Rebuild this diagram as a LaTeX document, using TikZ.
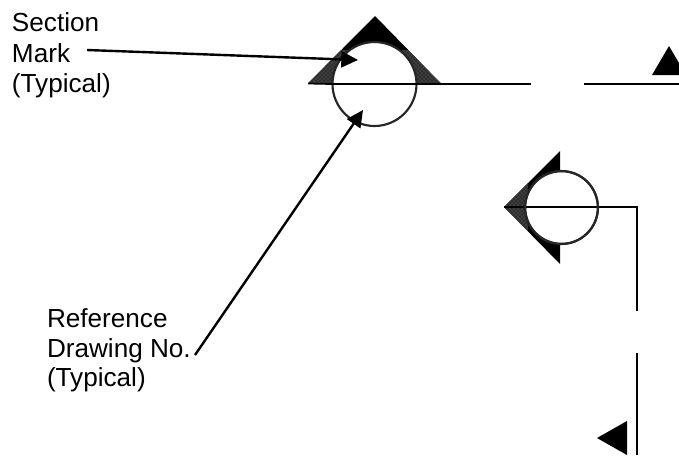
\documentclass[tikz,border=0pt]{standalone}
\usepackage{fontspec}
\setmainfont{Liberation Sans}
\usetikzlibrary{arrows.meta,patterns}
\tikzset{
  lbl/.style={anchor=base west,inner sep=0pt,outer sep=0pt,font=\fontsize{19.6pt}{22pt}\selectfont,text=black},
  thickline/.style={draw=black,line width=2pt},
  thinline/.style={draw=black,line width=1.3pt},
  ring/.style={draw=black!85,line width=1.6pt},
  leader/.style={draw=black,line width=1.8pt,-{Triangle[length=12.5pt,width=12pt]}},
  solidtip/.style={fill=black},
  speckle/.style={fill=black!82},
  dotted fill/.style={pattern=crosshatch dots,pattern color=black!55}
}
\begin{document}
\begin{tikzpicture}[x=0.75pt,y=-0.75pt]
\useasboundingbox (0,0) rectangle (679,455);
% top section mark
\fill[solidtip] (308,83.5) -- (375,16) -- (441,83.5) -- cycle;
\fill[speckle] (308,83.5) -- (341,50) -- (408,50) -- (441,83.5) -- cycle;
\fill[dotted fill] (308,83.5) -- (341,50) -- (408,50) -- (441,83.5) -- cycle;
\node[circle,minimum size=63pt,inner sep=0pt,fill=white,ring] (c1) at (374.5,84) {};
\coordinate (h1) at (308,83.5);
\coordinate (e1) at (441,84);
\coordinate (f1) at (531,84);
\draw[thinline] (c1.west) -- (c1.east);
\draw[thinline] (h1) -- (c1.west);
\draw[thinline] (c1.east) -- (e1);
\draw[thickline] (e1) -- (f1);
% top right
\coordinate (g1) at (584,84);
\coordinate (g2) at (679,84);
\draw[thickline] (g1) -- (g2);
\fill[solidtip] (652,75) -- (669,46) -- (686,75) -- cycle;
% middle section mark
\fill[solidtip] (504,207) -- (560,151) -- (560,264) -- cycle;
\fill[speckle] (504,207) -- (528,183) -- (528,231) -- cycle;
\fill[dotted fill] (504,207) -- (528,183) -- (528,231) -- cycle;
\node[circle,minimum size=54.5pt,inner sep=0pt,fill=white,ring] (c2) at (561.5,207.5) {};
\coordinate (k) at (637,207);
\coordinate (m) at (637,311);
\draw[thinline] (504,207) -- (k) -- (m);
\draw[ring] (c2.center) circle[radius=36.5];
% lower right
\coordinate (n1) at (637,353);
\coordinate (n2) at (637,455);
\draw[thickline] (n1) -- (n2);
\fill[solidtip] (597,438) -- (627,421) -- (627,455) -- cycle;
% labels
\node[lbl] (t1) at (12,31) {Section};
\node[lbl] (t2) at (12,62) {Mark};
\node[lbl] (t3) at (12,92) {(Typical)};
\node[lbl] (t4) at (47,327) {Reference};
\node[lbl] (t5) at (47,357) {Drawing No.};
\node[lbl] (t6) at (47,386) {(Typical)};
% leaders
\coordinate (s1) at (87,50);
\coordinate (a1) at (358,60);
\coordinate (s2) at (195,355);
\coordinate (a2) at (363,110);
\draw[leader] (s1) -- (a1);
\draw[leader] (s2) -- (a2);
\end{tikzpicture}
\end{document}
